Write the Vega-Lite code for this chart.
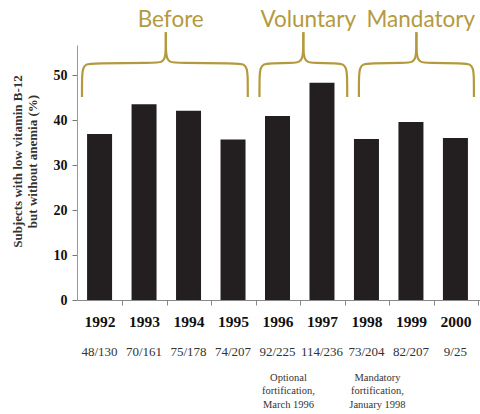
{
  "$schema": "https://vega.github.io/schema/vega-lite/v6.json",
  "width": 403,
  "height": 255,
  "autosize": "none",
  "padding": {"left": 77, "top": 45, "right": 0, "bottom": 114},
  "background": "white",
  "config": {"view": {"stroke": null}},
  "datasets": {
    "bars": [
      {"year": 1992, "pct": 36.9, "frac": "48/130"},
      {"year": 1993, "pct": 43.5, "frac": "70/161"},
      {"year": 1994, "pct": 42.1, "frac": "75/178"},
      {"year": 1995, "pct": 35.7, "frac": "74/207"},
      {"year": 1996, "pct": 40.9, "frac": "92/225"},
      {"year": 1997, "pct": 48.3, "frac": "114/236"},
      {"year": 1998, "pct": 35.8, "frac": "73/204"},
      {"year": 1999, "pct": 39.6, "frac": "82/207"},
      {"year": 2000, "pct": 36.0, "frac": "9/25"}
    ],
    "notes": [
      {"year": 1996, "note": "Optional\nfortification,\nMarch 1996"},
      {"year": 1998, "note": "Mandatory\nfortification,\nJanuary 1998"}
    ],
    "periods": [
      {"label": "Before", "x": 1993.6},
      {"label": "Voluntary", "x": 1996.69},
      {"label": "Mandatory", "x": 1999.22}
    ],
    "braces": [
      {"g": "B1", "i": 0, "x": 1991.605, "y": 45.11},
      {"g": "B1", "i": 1, "x": 1991.605, "y": 50},
      {"g": "B1", "i": 2, "x": 1991.627, "y": 51.56},
      {"g": "B1", "i": 3, "x": 1991.693, "y": 52.44},
      {"g": "B1", "i": 4, "x": 1991.825, "y": 52.67},
      {"g": "B1", "i": 5, "x": 1993.271, "y": 52.67},
      {"g": "B1", "i": 6, "x": 1993.403, "y": 52.89},
      {"g": "B1", "i": 7, "x": 1993.468, "y": 53.78},
      {"g": "B1", "i": 8, "x": 1993.490, "y": 55.11},
      {"g": "B1", "i": 9, "x": 1993.490, "y": 59.56},
      {"g": "B2", "i": 0, "x": 1995.332, "y": 45.11},
      {"g": "B2", "i": 1, "x": 1995.332, "y": 50},
      {"g": "B2", "i": 2, "x": 1995.310, "y": 51.56},
      {"g": "B2", "i": 3, "x": 1995.244, "y": 52.44},
      {"g": "B2", "i": 4, "x": 1995.112, "y": 52.67},
      {"g": "B2", "i": 5, "x": 1993.710, "y": 52.67},
      {"g": "B2", "i": 6, "x": 1993.578, "y": 52.89},
      {"g": "B2", "i": 7, "x": 1993.512, "y": 53.78},
      {"g": "B2", "i": 8, "x": 1993.490, "y": 55.11},
      {"g": "B2", "i": 9, "x": 1993.490, "y": 59.56},
      {"g": "V1", "i": 0, "x": 1995.595, "y": 45.11},
      {"g": "V1", "i": 1, "x": 1995.595, "y": 50},
      {"g": "V1", "i": 2, "x": 1995.616, "y": 51.56},
      {"g": "V1", "i": 3, "x": 1995.682, "y": 52.44},
      {"g": "V1", "i": 4, "x": 1995.814, "y": 52.67},
      {"g": "V1", "i": 5, "x": 1996.362, "y": 52.67},
      {"g": "V1", "i": 6, "x": 1996.493, "y": 52.89},
      {"g": "V1", "i": 7, "x": 1996.559, "y": 53.78},
      {"g": "V1", "i": 8, "x": 1996.581, "y": 55.11},
      {"g": "V1", "i": 9, "x": 1996.581, "y": 59.56},
      {"g": "V2", "i": 0, "x": 1997.567, "y": 45.11},
      {"g": "V2", "i": 1, "x": 1997.567, "y": 50},
      {"g": "V2", "i": 2, "x": 1997.545, "y": 51.56},
      {"g": "V2", "i": 3, "x": 1997.479, "y": 52.44},
      {"g": "V2", "i": 4, "x": 1997.348, "y": 52.67},
      {"g": "V2", "i": 5, "x": 1996.800, "y": 52.67},
      {"g": "V2", "i": 6, "x": 1996.668, "y": 52.89},
      {"g": "V2", "i": 7, "x": 1996.603, "y": 53.78},
      {"g": "V2", "i": 8, "x": 1996.581, "y": 55.11},
      {"g": "V2", "i": 9, "x": 1996.581, "y": 59.56},
      {"g": "M1", "i": 0, "x": 1997.830, "y": 45.11},
      {"g": "M1", "i": 1, "x": 1997.830, "y": 50},
      {"g": "M1", "i": 2, "x": 1997.852, "y": 51.56},
      {"g": "M1", "i": 3, "x": 1997.918, "y": 52.44},
      {"g": "M1", "i": 4, "x": 1998.049, "y": 52.67},
      {"g": "M1", "i": 5, "x": 1998.904, "y": 52.67},
      {"g": "M1", "i": 6, "x": 1999.036, "y": 52.89},
      {"g": "M1", "i": 7, "x": 1999.101, "y": 53.78},
      {"g": "M1", "i": 8, "x": 1999.123, "y": 55.11},
      {"g": "M1", "i": 9, "x": 1999.123, "y": 59.56},
      {"g": "M2", "i": 0, "x": 2000.416, "y": 45.11},
      {"g": "M2", "i": 1, "x": 2000.416, "y": 50},
      {"g": "M2", "i": 2, "x": 2000.395, "y": 51.56},
      {"g": "M2", "i": 3, "x": 2000.329, "y": 52.44},
      {"g": "M2", "i": 4, "x": 2000.197, "y": 52.67},
      {"g": "M2", "i": 5, "x": 1999.342, "y": 52.67},
      {"g": "M2", "i": 6, "x": 1999.211, "y": 52.89},
      {"g": "M2", "i": 7, "x": 1999.145, "y": 53.78},
      {"g": "M2", "i": 8, "x": 1999.123, "y": 55.11},
      {"g": "M2", "i": 9, "x": 1999.123, "y": 59.56}
    ]
  },
  "layer": [
    {
      "data": {"name": "bars"},
      "mark": {"type": "bar", "width": 25, "color": "#231F20"},
      "encoding": {
        "x": {
          "field": "year", "type": "quantitative",
          "scale": {"domain": [1991.605, 2000.44], "nice": false, "zero": false},
          "axis": {
            "title": null, "values": [1992, 1993, 1994, 1995, 1996, 1997, 1998, 1999, 2000],
            "format": "d", "grid": false, "tickOffset": 22.8, "labelOffset": -22.8, "tickSize": 5,
            "domainColor": "#888", "tickColor": "#888",
            "labelFont": "Liberation Serif", "labelFontWeight": "bold", "labelFontSize": 15.5,
            "labelColor": "#111", "labelPadding": 9, "labelFlush": false, "labelOverlap": false
          }
        },
        "y": {
          "field": "pct", "type": "quantitative",
          "scale": {"domain": [0, 56.7], "nice": false},
          "axis": {
            "title": ["Subjects with low vitamin B-12", "but without anemia (%)"],
            "values": [0, 10, 20, 30, 40, 50], "grid": false,
            "domainColor": "#999", "tickColor": "#777", "tickSize": 5,
            "labelFont": "Liberation Serif", "labelFontWeight": "bold", "labelFontSize": 14,
            "labelColor": "#111", "labelPadding": 5,
            "titleFont": "Liberation Serif", "titleFontWeight": "bold", "titleFontSize": 13,
            "titleColor": "#333", "titlePadding": 14, "titleLineHeight": 15, "titleY": 116
          }
        }
      }
    },
    {
      "mark": {"type": "rule", "color": "#222", "strokeWidth": 1},
      "encoding": {"y": {"datum": 50}}
    },
    {
      "data": {"name": "bars"},
      "mark": {"type": "text", "font": "Liberation Serif", "fontSize": 13, "color": "#333", "baseline": "middle"},
      "encoding": {
        "x": {"field": "year", "type": "quantitative"},
        "y": {"datum": -11.6},
        "text": {"field": "frac"}
      }
    },
    {
      "data": {"name": "notes"},
      "mark": {"type": "text", "font": "Liberation Serif", "fontSize": 10.5, "color": "#333", "baseline": "top", "lineBreak": "\n", "lineHeight": 13.5, "dx": 11},
      "encoding": {
        "x": {"field": "year", "type": "quantitative"},
        "y": {"datum": -16.2},
        "text": {"field": "note"}
      }
    },
    {
      "data": {"name": "braces"},
      "mark": {"type": "line", "interpolate": "basis", "color": "#B49A3E", "strokeWidth": 2.2},
      "encoding": {
        "x": {"field": "x", "type": "quantitative"},
        "y": {"field": "y", "type": "quantitative"},
        "detail": {"field": "g"},
        "order": {"field": "i"}
      }
    },
    {
      "data": {"name": "periods"},
      "mark": {"type": "text", "font": "Lato", "fontSize": 22.5, "color": "#B49A3E", "baseline": "middle"},
      "encoding": {
        "x": {"field": "x", "type": "quantitative"},
        "y": {"datum": 62.2},
        "text": {"field": "label"}
      }
    }
  ]
}
